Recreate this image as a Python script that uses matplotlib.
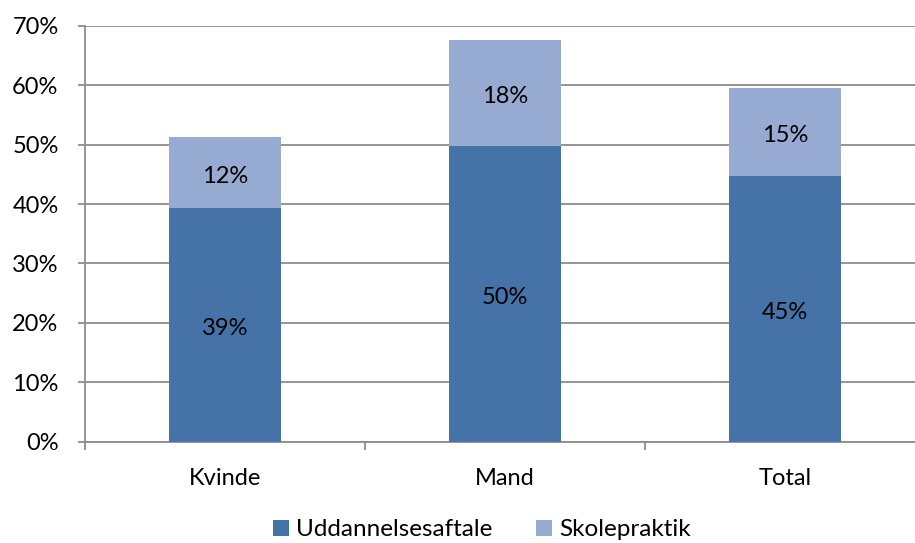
import numpy as np
import matplotlib.pyplot as plt
from matplotlib.ticker import FuncFormatter, FixedLocator

plt.rcParams['font.family'] = ['Lato', 'DejaVu Sans']

# data (share, in percent)
categories = ['Kvinde', 'Mand', 'Total']
uddannelsesaftale = [39.4, 49.8, 44.8]
skolepraktik = [11.9, 17.9, 14.8]
series_names = ['Uddannelsesaftale', 'Skolepraktik']
colors = ['#4572A7', '#96AAD2']

W, H = 915, 543
fig = plt.figure(figsize=(W / 100, H / 100), dpi=100)
# plot area runs a bit past the right edge, as in the original
ax = fig.add_axes([85 / W, (H - 441.5) / H, 840 / W, (441.5 - 26) / H])

x = np.arange(len(categories))
b1 = ax.bar(x, uddannelsesaftale, width=0.4, color=colors[0], label=series_names[0], zorder=3)
b2 = ax.bar(x, skolepraktik, width=0.4, bottom=uddannelsesaftale, color=colors[1],
            label=series_names[1], zorder=3)

for bars, vals, base in [(b1, uddannelsesaftale, [0] * 3), (b2, skolepraktik, uddannelsesaftale)]:
    for rect, v, b in zip(bars, vals, base):
        ax.annotate('%d%%' % round(v), (rect.get_x() + rect.get_width() / 2, b + v / 2),
                    xytext=(0, -3), textcoords='offset points',
                    ha='center', va='center', fontsize=17, color='black', zorder=4)

ax.set_xlim(-0.5, len(categories) - 0.5)
ax.set_ylim(0, 70)
ax.set_yticks(np.arange(0, 71, 10))
ax.yaxis.set_major_formatter(FuncFormatter(lambda v, p: '%d%%' % v))
ax.yaxis.grid(True, color='#8c8c8c', linewidth=1.3, zorder=0)
ax.set_axisbelow(True)

# category boundaries carry the ticks, labels sit in the middle
ax.xaxis.set_major_locator(FixedLocator(np.arange(-0.5, len(categories), 1.0)))
ax.xaxis.set_major_formatter(FuncFormatter(lambda v, p: ''))
ax.xaxis.set_minor_locator(FixedLocator(x))
ax.set_xticklabels(categories, minor=True)
ax.tick_params(axis='x', which='minor', length=0, pad=19, labelsize=17)
ax.tick_params(axis='x', which='major', length=6, width=1.3, color='#8c8c8c', direction='out')
ax.tick_params(axis='y', length=5, width=1.3, color='#8c8c8c', pad=14, labelsize=17)

for s in ['top', 'right']:
    ax.spines[s].set_visible(False)
for s in ['left', 'bottom']:
    ax.spines[s].set_color('#8c8c8c')
    ax.spines[s].set_linewidth(1.3)

fig.legend(handles=[b1, b2], labels=series_names, loc='center', bbox_to_anchor=(482 / W, 1 - 530 / H),
           ncol=2, frameon=False, fontsize=17.5, handlelength=0.65, handleheight=0.65,
           handletextpad=0.3, columnspacing=1.8)

fig.savefig('out.png', dpi=100)
